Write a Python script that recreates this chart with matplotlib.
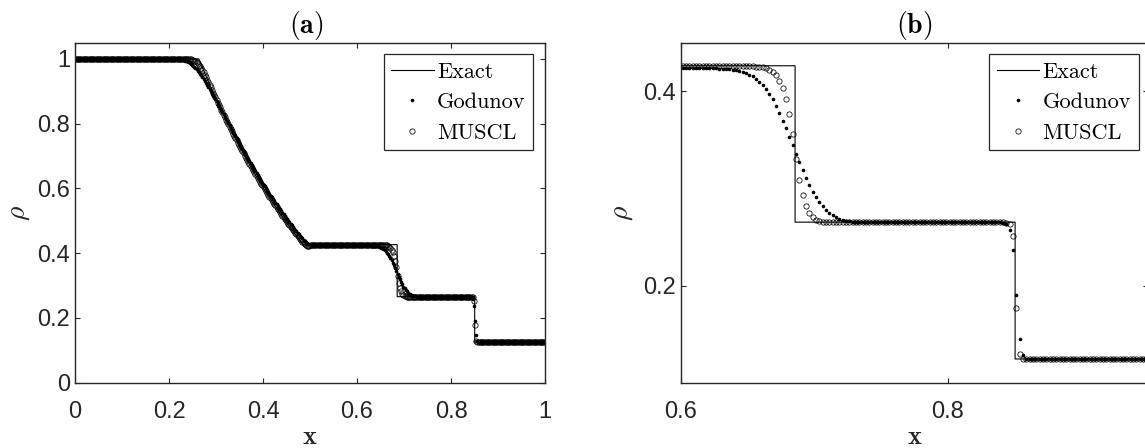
import numpy as np
import matplotlib
matplotlib.use('Agg')
import matplotlib.pyplot as plt

# Sod shock tube, density at t = 0.2 on a 400-cell grid
n_cells = 400
cell_width = 1.0 / n_cells
x_cells = (np.arange(n_cells) + 0.5) * cell_width

# exact solution: plateaus, rarefaction fan, contact and shock
exact_x = [0.0, 0.2634, 0.28, 0.30, 0.32, 0.34, 0.36, 0.38, 0.40, 0.42, 0.44,
           0.46, 0.48, 0.4859, 0.6855, 0.6855, 0.8504, 0.8504, 1.0]
exact_rho = [1.0, 1.0, 0.9427, 0.8774, 0.8158, 0.7577, 0.7030, 0.6514, 0.6030,
             0.5574, 0.5147, 0.4746, 0.4370, 0.4263, 0.4263, 0.2656, 0.2656,
             0.125, 0.125]

# first-order Godunov, cell averages
godunov_fan = [
    0.997, 0.996, 0.995, 0.994, 0.992, 0.990, 0.988, 0.985, 0.982, 0.979,
    0.976, 0.972, 0.968, 0.963, 0.959, 0.954, 0.949, 0.943, 0.938, 0.932,
    0.926, 0.920, 0.914, 0.908, 0.902, 0.895, 0.889, 0.882, 0.876, 0.869,
    0.862, 0.856, 0.849, 0.842, 0.835, 0.829, 0.822, 0.815, 0.808, 0.801,
    0.795, 0.788, 0.781, 0.775, 0.768, 0.761, 0.755, 0.748, 0.742, 0.735,
    0.729, 0.722, 0.716, 0.709, 0.703, 0.697, 0.690, 0.684, 0.678, 0.672,
    0.666, 0.660, 0.653, 0.647, 0.641, 0.636, 0.630, 0.624, 0.618, 0.612,
    0.606, 0.601, 0.595, 0.589, 0.584, 0.578, 0.573, 0.567, 0.562, 0.556,
    0.551, 0.546, 0.541, 0.535, 0.530, 0.525, 0.520, 0.515, 0.510, 0.505,
    0.500, 0.495, 0.490, 0.486, 0.481, 0.476, 0.472, 0.467, 0.463, 0.458,
    0.454, 0.450, 0.446, 0.442, 0.438, 0.434, 0.431, 0.429, 0.427]
godunov_contact = [
    0.421, 0.420, 0.419, 0.417, 0.416, 0.413, 0.410, 0.407, 0.402, 0.397,
    0.392, 0.385, 0.378, 0.370, 0.362, 0.353, 0.345, 0.336, 0.327, 0.319,
    0.311, 0.304, 0.297, 0.291, 0.286, 0.282, 0.278, 0.275, 0.273, 0.271,
    0.269, 0.268]
godunov_shock = [0.265, 0.264, 0.258, 0.237, 0.191, 0.146, 0.129]
godunov_rho = ([1.000] * 86 + [0.999] * 3 + [0.998] * 2 + godunov_fan
               + [0.425] * 2 + [0.424] + [0.425] * 37 + [0.424] * 11
               + [0.423] * 4 + [0.422] * 2 + godunov_contact + [0.267] * 2
               + [0.266] * 45 + godunov_shock + [0.125] * 57)

# second-order MUSCL, cell averages
muscl_fan = [
    0.998, 0.997, 0.995, 0.993, 0.990, 0.986, 0.982, 0.977, 0.971, 0.965,
    0.958, 0.951, 0.944, 0.936, 0.928, 0.920, 0.912, 0.904, 0.896, 0.889,
    0.881, 0.873, 0.865, 0.857, 0.850, 0.842, 0.835, 0.827, 0.820, 0.812,
    0.805, 0.798, 0.790, 0.783, 0.776, 0.769, 0.762, 0.755, 0.748, 0.741,
    0.735, 0.728, 0.721, 0.714, 0.708, 0.701, 0.695, 0.688, 0.682, 0.676,
    0.669, 0.663, 0.657, 0.651, 0.645, 0.638, 0.632, 0.626, 0.621, 0.615,
    0.609, 0.603, 0.597, 0.592, 0.586, 0.580, 0.575, 0.569, 0.564, 0.558,
    0.553, 0.548, 0.542, 0.537, 0.532, 0.527, 0.521, 0.516, 0.511, 0.506,
    0.501, 0.496, 0.491, 0.487, 0.482, 0.477, 0.472, 0.468, 0.463, 0.458,
    0.454, 0.449, 0.445, 0.440, 0.436, 0.432, 0.428, 0.425]
muscl_contact = [
    0.424, 0.422, 0.420, 0.417, 0.411, 0.403, 0.392, 0.377, 0.356, 0.331,
    0.309, 0.293, 0.282, 0.275, 0.271, 0.268, 0.267]
muscl_shock = [0.265, 0.264, 0.251, 0.177, 0.130]
muscl_rho = ([1.000] * 96 + [0.999] * 3 + muscl_fan + [0.423] * 3
             + [0.425] * 2 + [0.426] * 60 + [0.425] * 3 + muscl_contact
             + [0.266] * 55 + muscl_shock + [0.125] * 58)

ticks_a = [0, 0.2, 0.4, 0.6, 0.8, 1]
labels_a = ['0', '0.2', '0.4', '0.6', '0.8', '1']
xticks_b = [0.6, 0.8]
xlabels_b = ['0.6', '0.8']
yticks_b = [0.2, 0.4]
ylabels_b = ['0.2', '0.4']
series_names = ['Exact', 'Godunov', 'MUSCL']
panel_titles = [r'$\mathbf{(a)}$', r'$\mathbf{(b)}$']

plt.rcParams['mathtext.fontset'] = 'cm'
ink = '#262626'
W, H = 1145, 448
fig = plt.figure(figsize=(W / 100, H / 100), dpi=100)


def add_ax(l, r, t, b):
    return fig.add_axes([l / W, 1 - b / H, (r - l) / W, (b - t) / H])


axa = add_ax(75, 545, 42.7, 382.7)
axb = add_ax(681, 1148, 42.7, 383.3)

for ax in (axa, axb):
    ax.plot(exact_x, exact_rho, '-', color='k', lw=0.8, label=series_names[0])
    ax.plot(x_cells, godunov_rho, 'o', color='k', ms=2.6, mew=0,
            label=series_names[1])
    ax.plot(x_cells, muscl_rho, 'o', mfc='none', mec='k', ms=3.8, mew=0.55,
            label=series_names[2])
    ax.tick_params(direction='in', top=True, right=True, length=3.6, width=0.8,
                   color=ink, labelcolor=ink, labelsize=17)
    ax.tick_params(axis='x', pad=13)
    ax.tick_params(axis='y', pad=3.5)
    for s in ax.spines.values():
        s.set_color(ink)
        s.set_linewidth(1.0)

axa.set_xlim(0, 1)
axa.set_ylim(0, 1.05)
axa.set_xticks(ticks_a, labels_a, family='Liberation Sans')
axa.set_yticks(ticks_a, labels_a, family='Liberation Sans')
axb.set_xlim(0.6, 0.95)
axb.set_ylim(0.1, 0.45)
axb.set_xticks(xticks_b, xlabels_b, family='Liberation Sans')
axb.set_yticks(yticks_b, ylabels_b, family='Liberation Sans')

for ax, right in ((axa, 533.2), (axb, 1138.6)):
    leg = ax.legend(loc='upper right', bbox_to_anchor=(right / W, 1 - 54.3 / H),
                    bbox_transform=fig.transFigure,
                    prop={'family': 'cmr10', 'size': 16},
                    borderpad=0.35, labelspacing=0.49, handlelength=1.9,
                    handletextpad=0.15, borderaxespad=0, fancybox=False,
                    framealpha=1, edgecolor=ink)
    leg.get_frame().set_linewidth(0.9)

for cx, txt in zip((306, 914), panel_titles):
    fig.text(cx / W, 1 - 25 / H, txt, ha='center', va='center', fontsize=20,
             color='k')
for cx in (310, 915):
    fig.text(cx / W, 1 - 444 / H, r'$\mathbf{x}$', ha='center', va='baseline',
             fontsize=19, color=ink)
for cx in (18, 621):
    fig.text(cx / W, 1 - 213 / H, r'$\rho$', ha='center', va='center',
             fontsize=20, rotation=90, color=ink)

fig.savefig('out.png')
